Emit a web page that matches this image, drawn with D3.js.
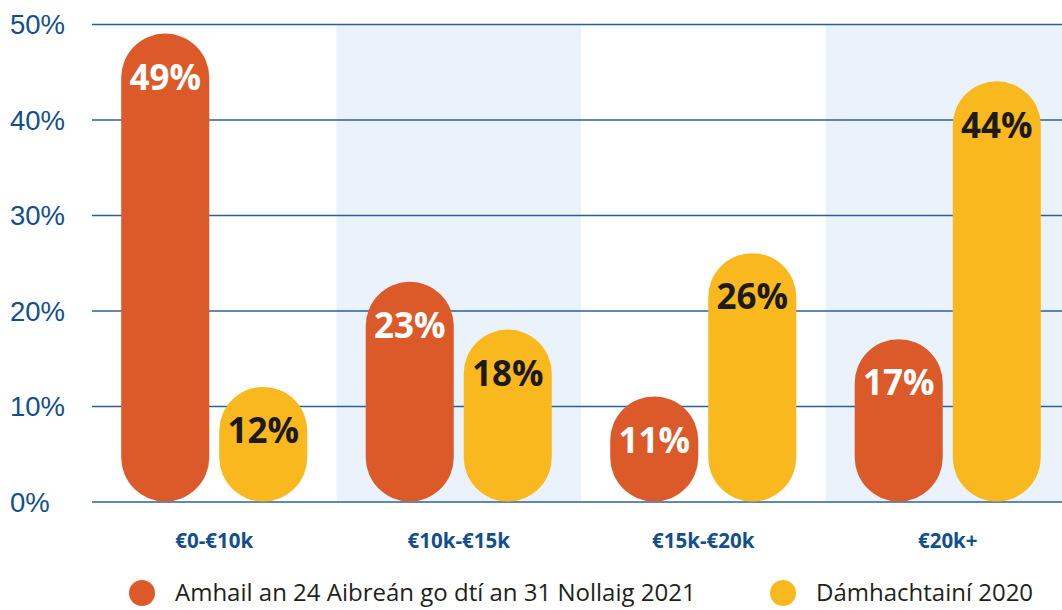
<!DOCTYPE html>
<html>
<head>
<meta charset="utf-8">
<script src="https://cdn.jsdelivr.net/npm/d3@7"></script>
<style>
  body { margin: 0; background: #fff; }
  svg { display: block; font-family: 'Open Sans', sans-serif; }
</style>
</head>
<body>
<div id="chart"></div>
<script>
// data
var groups = ['€0-€10k', '€10k-€15k', '€15k-€20k', '€20k+'];
var seriesNames = ['Amhail an 24 Aibreán go dtí an 31 Nollaig 2021', 'Dámhachtainí 2020'];
var series2021 = [49, 23, 11, 17];
var series2020 = [12, 18, 26, 44];
var yTicks = [0, 10, 20, 30, 40, 50];

var colors = ['#dc5a2a', '#f9b91e'];
var labelColors = ['#ffffff', '#1c1a1a'];

var width = 1062, height = 610;
var svg = d3.select('#chart').append('svg').attr('width', width).attr('height', height);

var x0 = d3.scaleBand().domain(groups).range([92, 1070]);
var x1 = d3.scaleBand().domain([0, 1]).range([0, x0.bandwidth()]).paddingInner(0.102).paddingOuter(0.298);
var y = d3.scaleLinear().domain([0, 50]).range([501.5, 24]);

// alternate background bands
svg.append('g').selectAll('rect').data(groups.filter((d, i) => i % 2 == 1)).enter().append('rect')
    .attr('x', d => x0(d)).attr('y', y(50)).attr('width', x0.bandwidth()).attr('height', y(0) - y(50))
    .attr('fill', '#eaf3fb');

// y axis: gridlines + labels
var yAxis = svg.append('g').attr('transform', 'translate(92,0)')
    .call(d3.axisLeft(y).tickValues(yTicks).tickSize(-(width - 92)).tickFormat(d => d + '%'));
yAxis.select('.domain').remove();
yAxis.selectAll('.tick line').attr('stroke', '#2b6097').attr('stroke-width', 1.6);
yAxis.selectAll('.tick text').attr('x', -82).attr('text-anchor', 'start')
    .attr('fill', '#134f8e').style('font-size', '27.5px').attr('dy', '0.36em');

// bars
var rows = groups.map((g, i) => ({ g: g, vals: [series2021[i], series2020[i]] }));
var grp = svg.append('g').selectAll('g').data(rows).enter().append('g')
    .attr('transform', d => `translate(${x0(d.g)},0)`);

var bars = grp.selectAll('g').data(d => d.vals.map((v, k) => ({ v: v, k: k }))).enter().append('g');
var bw = x1.bandwidth();
bars.append('rect')
    .attr('x', d => x1(d.k)).attr('y', d => y(d.v))
    .attr('width', bw).attr('height', d => y(0) - y(d.v))
    .attr('rx', bw / 2).attr('ry', bw / 2)
    .attr('fill', d => colors[d.k]);
bars.append('text')
    .attr('x', d => x1(d.k) + bw / 2).attr('y', d => y(d.v) + bw / 2)
    .attr('dy', '0.35em').attr('text-anchor', 'middle')
    .attr('fill', d => labelColors[d.k])
    .style('font-size', '35px').style('font-weight', 'bold')
    .text(d => d.v + '%');

// x labels
svg.append('g').selectAll('text').data(groups).enter().append('text')
    .attr('x', d => x0(d) + x0.bandwidth() / 2).attr('y', 548)
    .attr('text-anchor', 'middle').attr('fill', '#134f8e')
    .style('font-size', '20.5px').style('font-weight', 'bold')
    .text(d => d);

// legend (nudged up so descenders stay inside the frame)
var legendX = [142, 783];
var legend = svg.append('g').selectAll('g').data(seriesNames).enter().append('g')
    .attr('transform', (d, i) => `translate(${legendX[i]},593)`);
legend.append('circle').attr('r', 13).attr('fill', (d, i) => colors[i]);
legend.append('text').attr('x', 33).attr('y', 0).attr('dy', '0.35em')
    .attr('fill', '#231f20').style('font-size', '24px').text(d => d);
</script>
</body>
</html>
